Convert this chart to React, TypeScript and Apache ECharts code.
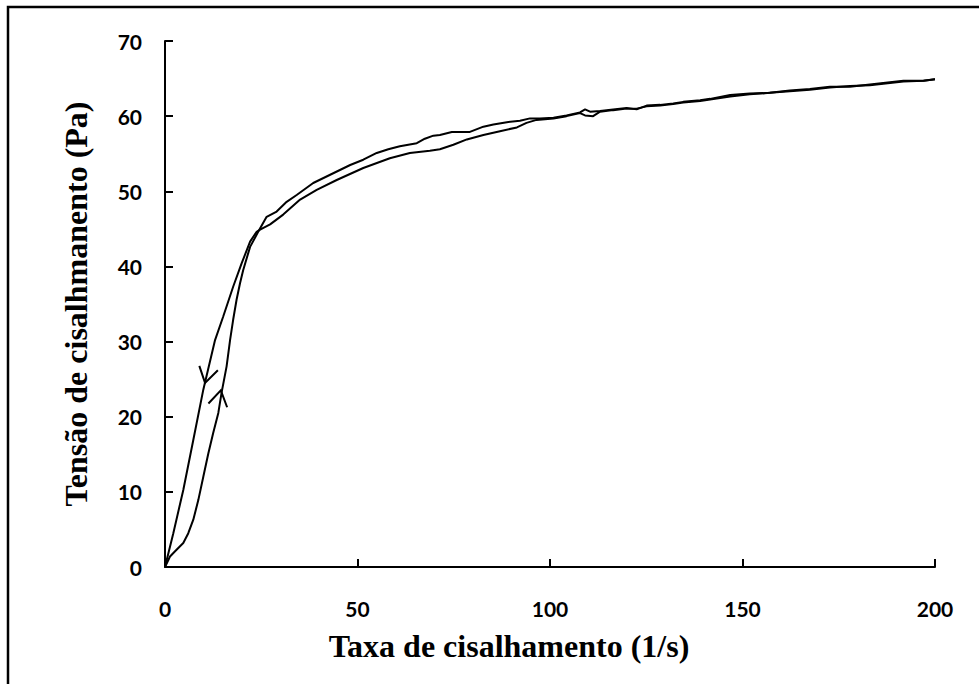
import React, { useEffect, useRef } from "react";
import * as echarts from "echarts";

// Ascending curve (shear rate increasing)
const upRate = [0, 1.3, 3.0, 4.75, 6.05, 7.35, 8.65, 9.95, 11.25, 12.5, 13.85, 14.7, 16.0, 16.9, 17.7, 18.6, 19.5, 20.3, 22.1, 24.2, 26.4, 29.0, 31.6, 34.2, 38.5, 42.9, 48.1, 51.5, 55.0, 58.0, 61.0, 65.4, 67.5, 69.7, 71.4, 74.5, 79.2, 82.7, 85.3, 88.8, 92.2, 94.8, 97.4, 100.9, 104.3, 107.8, 109.1, 110.4, 113.0, 116.4, 119.9, 122.5, 125.1, 128.6, 132.0, 134.6, 139.0, 141.6, 146.8, 151.9, 157.1, 162.3, 167.5, 172.7, 177.9, 183.1, 188.3, 191.8, 197.0, 200];
const upStress = [0, 1.4, 2.3, 3.2, 4.5, 6.3, 8.9, 12.0, 15.1, 17.8, 20.5, 23.2, 26.7, 30.2, 32.9, 35.6, 37.8, 39.5, 42.6, 44.6, 46.6, 47.3, 48.6, 49.5, 51.1, 52.2, 53.5, 54.2, 55.1, 55.6, 56.0, 56.4, 57.0, 57.4, 57.5, 57.9, 57.9, 58.6, 58.9, 59.2, 59.4, 59.7, 59.7, 59.8, 60.1, 60.5, 60.9, 60.6, 60.7, 60.9, 61.1, 60.9, 61.4, 61.5, 61.7, 61.9, 62.1, 62.3, 62.8, 63.0, 63.1, 63.4, 63.6, 63.9, 63.9, 64.2, 64.5, 64.7, 64.7, 64.9];

// Descending curve (shear rate decreasing)
const downRate = [200, 197.0, 191.8, 188.3, 183.1, 177.9, 172.7, 167.5, 162.3, 157.1, 151.9, 146.8, 141.6, 139.0, 134.6, 132.0, 128.6, 125.1, 122.5, 119.9, 116.4, 113.0, 111.2, 109.1, 107.8, 104.3, 100.9, 96.5, 93.9, 91.4, 87.0, 82.7, 78.4, 74.9, 71.4, 68.8, 63.6, 58.4, 51.5, 44.6, 39.4, 35.1, 30.7, 27.3, 24.7, 23.8, 22.1, 19.9, 17.7, 15.1, 13.0, 9.95, 7.35, 4.75, 2.16, 0];
const downStress = [64.9, 64.7, 64.6, 64.4, 64.1, 64.0, 63.8, 63.5, 63.3, 63.1, 62.9, 62.6, 62.2, 62.0, 61.8, 61.6, 61.4, 61.3, 61.0, 61.0, 60.8, 60.6, 60.0, 60.1, 60.4, 60.0, 59.7, 59.5, 59.1, 58.5, 58.0, 57.5, 56.9, 56.2, 55.6, 55.4, 55.1, 54.4, 53.1, 51.5, 50.2, 48.9, 46.9, 45.6, 44.9, 44.6, 43.3, 40.4, 37.3, 33.3, 30.2, 23.6, 16.9, 10.25, 4.5, 0];

// Direction arrows (tip position in data units, pointing direction in screen degrees)
const arrowRate = [10.4, 14.5];
const arrowStress = [24.5, 23.5];
const arrowAngle = [103.5, -78.5];

const xTicks = { min: 0, max: 200, interval: 50 };
const yTicks = { min: 0, max: 70, interval: 10 };

const xTitle = "Taxa de cisalhamento (1/s)";
const yTitle = "Tensão de cisalhmanento (Pa)";

export default function App() {
  const ref = useRef<HTMLDivElement>(null);
  useEffect(() => {
    if (!ref.current) return;
    const chart = echarts.init(ref.current, undefined, { renderer: "svg" });
    const labelFont = {
      fontFamily: "Lato, 'Open Sans', sans-serif",
      fontWeight: "bold" as const,
      fontSize: 21,
      color: "#000",
    };
    const titleFont = {
      fontFamily: "'Liberation Serif', 'Times New Roman', serif",
      fontWeight: "bold" as const,
      fontSize: 32,
      color: "#000",
    };
    const axisLine = { show: true, lineStyle: { color: "#000", width: 2 } };
    const axisTick = { show: true, inside: true, length: 8, lineStyle: { color: "#000", width: 2 } };
    const lineStyle = { color: "#000", width: 2 };
    chart.setOption({
      animation: false,
      backgroundColor: "#fff",
      grid: { left: 165, right: 44, top: 41, bottom: 117, containLabel: false },
      graphic: [
        {
          type: "rect",
          shape: { x: 8, y: 7, width: 2000, height: 2000 },
          style: { fill: "none", stroke: "#000", lineWidth: 2.5 },
          silent: true,
        },
      ],
      xAxis: {
        type: "value",
        ...xTicks,
        axisLine,
        axisTick,
        splitLine: { show: false },
        axisLabel: { ...labelFont, margin: 31 },
        name: xTitle,
        nameLocation: "middle",
        nameGap: 63,
        nameTextStyle: { ...titleFont, padding: [0, 82, 0, 0] },
      },
      yAxis: {
        type: "value",
        ...yTicks,
        axisLine,
        axisTick,
        splitLine: { show: false },
        axisLabel: { ...labelFont, margin: 23 },
        name: yTitle,
        nameLocation: "middle",
        nameGap: 73,
        nameRotate: 90,
        nameTextStyle: { ...titleFont },
      },
      series: [
        {
          type: "line",
          data: upRate.map((x, i) => [x, upStress[i]]),
          showSymbol: false,
          symbol: "none",
          lineStyle,
          smooth: false,
        },
        {
          type: "line",
          data: downRate.map((x, i) => [x, downStress[i]]),
          showSymbol: false,
          symbol: "none",
          lineStyle,
          smooth: false,
        },
        {
          type: "custom",
          coordinateSystem: "cartesian2d",
          data: arrowRate.map((x, i) => [x, arrowStress[i], arrowAngle[i]]),
          encode: { x: 0, y: 1 },
          renderItem: (params: any, api: any) => {
            const p = api.coord([api.value(0), api.value(1)]);
            const ang = (api.value(2) * Math.PI) / 180;
            const back = ang + Math.PI;
            const half = (32 * Math.PI) / 180;
            const len = 18;
            const a1 = [p[0] + len * Math.cos(back - half), p[1] + len * Math.sin(back - half)];
            const a2 = [p[0] + len * Math.cos(back + half), p[1] + len * Math.sin(back + half)];
            return {
              type: "polyline",
              shape: { points: [a1, p, a2] },
              style: { stroke: "#000", lineWidth: 2, fill: null },
            };
          },
        },
      ],
    });
    return () => chart.dispose();
  }, []);
  return (
    <div
      ref={ref}
      style={{ position: "fixed", left: 0, top: 0, width: 979, height: 684, background: "#fff" }}
    />
  );
}
